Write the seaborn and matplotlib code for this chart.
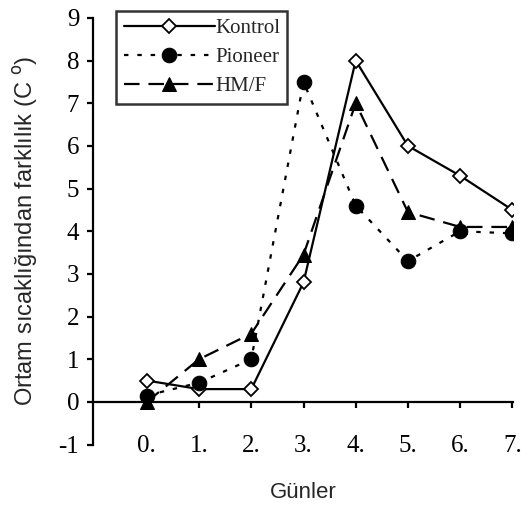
import pandas as pd
import matplotlib
matplotlib.use('Agg')
import matplotlib.pyplot as plt
import seaborn as sns

# data
days = [0, 1, 2, 3, 4, 5, 6, 7]
day_labels = ['0.', '1.', '2.', '3.', '4.', '5.', '6.', '7.']
kontrol = [0.5, 0.3, 0.3, 2.8, 8.0, 6.0, 5.3, 4.5]
pioneer = [0.15, 0.45, 1.0, 7.5, 4.6, 3.3, 4.0, 3.95]
hmf = [0.0, 1.0, 1.6, 3.45, 7.0, 4.45, 4.1, 4.1]

sns.set_theme(style='white')
plt.rcParams['font.family'] = ['Liberation Serif', 'DejaVu Serif']
plt.rcParams['axes.unicode_minus'] = False

fig, ax = plt.subplots(figsize=(5.32, 5.11), dpi=100)
fig.subplots_adjust(left=0.175, right=0.965, top=0.965, bottom=0.13)

df = pd.DataFrame({'day': days, 'Kontrol': kontrol, 'Pioneer': pioneer, 'HM/F': hmf})

sns.lineplot(data=df, x='day', y='Kontrol', ax=ax, color='black', lw=1.6,
             linestyle='-', marker='D', markersize=7.5, markerfacecolor='white',
             markeredgecolor='black', markeredgewidth=1.3, label='Kontrol')
sns.lineplot(data=df, x='day', y='Pioneer', ax=ax, color='black', lw=1.6,
             linestyle=(0, (2, 4)), marker='o', markersize=10.5, markerfacecolor='black',
             markeredgecolor='black', label='Pioneer')
sns.lineplot(data=df, x='day', y='HM/F', ax=ax, color='black', lw=1.6,
             linestyle=(0, (7, 4)), marker='^', markersize=10.5, markerfacecolor='black',
             markeredgecolor='black', label='HM/F')

ax.set_xlim(-1.03, 7.02)
ax.set_ylim(-1, 9)
ax.set_yticks(range(-1, 10))
ax.set_xticks(days)
ax.set_xticklabels(day_labels)

for s in ['top', 'right']:
    ax.spines[s].set_visible(False)
ax.spines['bottom'].set_position(('data', 0))
ax.spines['left'].set_linewidth(1.6)
ax.spines['bottom'].set_linewidth(1.6)
ax.spines['left'].set_color('black')
ax.spines['bottom'].set_color('black')

ax.tick_params(axis='y', direction='out', length=4, width=1.6, left=True,
               labelsize=18, pad=6, colors='black')
ax.tick_params(axis='x', direction='out', length=4, width=1.6, bottom=True,
               labelsize=18, pad=20, colors='black')

ax.set_xlabel('Günler', family='Liberation Sans', fontsize=16, labelpad=18)
ax.set_ylabel('Ortam sıcaklığından farklılık (C $^{\\mathrm{o}}$)',
              family='Liberation Sans', fontsize=17, labelpad=13)

leg = ax.legend(loc='upper left', bbox_to_anchor=(0.055, 1.015), fontsize=15,
                frameon=True, fancybox=False, handlelength=4.4, handletextpad=0.0,
                borderpad=0.35, labelspacing=0.45, borderaxespad=0)
leg.get_frame().set_edgecolor('black')
leg.get_frame().set_linewidth(1.8)

fig.savefig('out.png', dpi=100)
